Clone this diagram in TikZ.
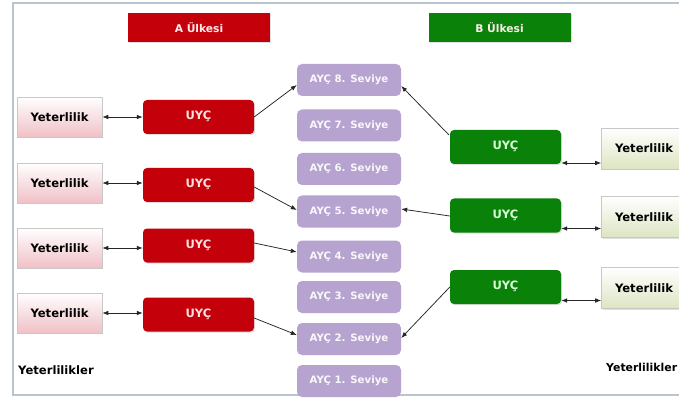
\documentclass[tikz,border=0pt]{standalone}
\usepackage{fontspec}
\setmainfont{DejaVu Sans}
\usetikzlibrary{arrows.meta,calc,shadows}
\definecolor{redbox}{HTML}{C4000B}
\definecolor{greenbox}{HTML}{0A820A}
\definecolor{purplebox}{HTML}{B7A3CF}
\definecolor{framecol}{HTML}{B9C5CE}
\definecolor{pinkbot}{HTML}{F0C0C6}
\definecolor{olivebot}{HTML}{DCE5C2}
\definecolor{boxline}{HTML}{C8C8C8}
\tikzset{
  shad/.style={drop shadow={shadow xshift=1pt,shadow yshift=-1.2pt,opacity=0.25}},
  header/.style={shad,minimum width=142pt,minimum height=29pt,font=\bfseries\fontsize{10.7}{12}\selectfont,text=white!92!red,inner sep=0pt},
  yetL/.style={shad,draw=boxline,line width=0.6pt,top color=white,bottom color=pinkbot,minimum width=85pt,minimum height=40pt,font=\bfseries\fontsize{11.6}{13}\selectfont,inner sep=0pt},
  yetR/.style={shad,draw=boxline,line width=0.6pt,top color=white,bottom color=olivebot,minimum width=85pt,minimum height=41pt,font=\bfseries\fontsize{11.6}{13}\selectfont,inner sep=0pt},
  uycR/.style={shad,fill=redbox,rounded corners=4pt,minimum width=111pt,minimum height=34pt,font=\bfseries\fontsize{11.5}{12}\selectfont,text=white!88!red,inner sep=0pt},
  uycG/.style={shad,fill=greenbox,rounded corners=4pt,minimum width=111pt,minimum height=34pt,font=\bfseries\fontsize{11.5}{12}\selectfont,text=white!85!green,inner sep=0pt},
  ayc/.style={fill=purplebox,rounded corners=5pt,minimum width=104pt,minimum height=32pt,font=\bfseries\fontsize{10.2}{11}\selectfont,text=white!92!purplebox,inner sep=0pt},
  conn/.style={draw=black!85,line width=0.75pt,-{Latex[length=6pt,width=4.6pt]}},
  dconn/.style={draw=black!85,line width=0.75pt,{Latex[length=6pt,width=4.6pt]}-{Latex[length=6pt,width=4.6pt]}},
  lbl/.style={font=\bfseries\fontsize{11.6}{13}\selectfont,inner sep=0pt}
}
\begin{document}
\begin{tikzpicture}[x=1pt,y=-1pt]
\useasboundingbox (0,0) rectangle (679,403);
\clip (0,0) rectangle (679,403);
\fill[white] (0,0) rectangle (679,403);
\draw[framecol,line width=1.3pt] (13,3) rectangle (720,395);

% headers
\node[header,fill=redbox] (hA) at (199,27.5) {A Ülkesi};
\node[header,fill=greenbox] (hB) at (499.5,27.5) {B Ülkesi};

% AYC levels
\node[ayc] (p8) at (349,80) {AYÇ 8. Seviye};
\node[ayc] (p7) at (349,125.5) {AYÇ 7. Seviye};
\node[ayc] (p6) at (349,169) {AYÇ 6. Seviye};
\node[ayc] (p5) at (349,211.5) {AYÇ 5. Seviye};
\node[ayc] (p4) at (349,256.5) {AYÇ 4. Seviye};
\node[ayc] (p3) at (349,297) {AYÇ 3. Seviye};
\node[ayc] (p2) at (349,339) {AYÇ 2. Seviye};
\node[ayc] (p1) at (349,381) {AYÇ 1. Seviye};

% left side
\node[yetL] (yl1) at (59.5,117) {Yeterlilik};
\node[yetL] (yl2) at (59.5,183) {Yeterlilik};
\node[yetL] (yl3) at (59.5,248) {Yeterlilik};
\node[yetL] (yl4) at (59.5,313) {Yeterlilik};
\node[uycR] (r1) at (198.5,117) {\raisebox{3pt}{UYÇ}};
\node[uycR] (r2) at (198.5,185) {\raisebox{3pt}{UYÇ}};
\node[uycR] (r3) at (198.5,245.5) {\raisebox{3pt}{UYÇ}};
\node[uycR] (r4) at (198.5,314.5) {\raisebox{3pt}{UYÇ}};

% right side
\node[uycG] (g1) at (505.5,147) {\raisebox{3pt}{UYÇ}};
\node[uycG] (g2) at (505.5,215.5) {\raisebox{3pt}{UYÇ}};
\node[uycG] (g3) at (505.5,287) {\raisebox{3pt}{UYÇ}};
\node[yetR] (yr1) at (644,148.5) {Yeterlilik};
\node[yetR] (yr2) at (644,217) {Yeterlilik};
\node[yetR] (yr3) at (644,288) {Yeterlilik};

% labels
\node[lbl,anchor=west] (tl) at (18,370) {Yeterlilikler};
\node[lbl,anchor=west,font=\bfseries\fontsize{10.9}{13}\selectfont] (tr) at (606,367) {Yeterlilikler};

% double arrows left
\draw[dconn] (yl1.east) -- (yl1.east -| r1.west);
\draw[dconn] (yl2.east) -- (yl2.east -| r2.west);
\draw[dconn] (yl3.east) -- (yl3.east -| r3.west);
\draw[dconn] (yl4.east) -- (yl4.east -| r4.west);

% double arrows right
\coordinate (a1) at ($(g1.east)+(0,16)$);
\coordinate (a2) at ($(g2.east)+(0,13)$);
\coordinate (a3) at ($(g3.east)+(0,13.5)$);
\draw[dconn] (a1) -- (a1 -| yr1.west);
\draw[dconn] (a2) -- (a2 -| yr2.west);
\draw[dconn] (a3) -- (a3 -| yr3.west);

% red to levels
\draw[conn] (r1.east) -- ($(p8.west)+(0,5)$);
\draw[conn] ($(r2.east)+(0,2)$) -- ($(p5.west)+(0,-1.5)$);
\draw[conn] ($(r3.east)+(0,-2.5)$) -- ($(p4.west)+(0,-4.5)$);
\draw[conn] ($(r4.east)+(0,3.5)$) -- ($(p2.west)+(0,-4)$);

% green to levels
\draw[conn] ($(g1.north west)+(-1,5)$) -- ($(p8.east)+(0,6)$);
\draw[conn] ($(g2.west)+(0,0.5)$) -- ($(p5.east)+(0,-2.5)$);
\draw[conn] ($(g3.west)+(0,0)$) -- ($(p2.east)+(0,-1)$);
\end{tikzpicture}
\end{document}
